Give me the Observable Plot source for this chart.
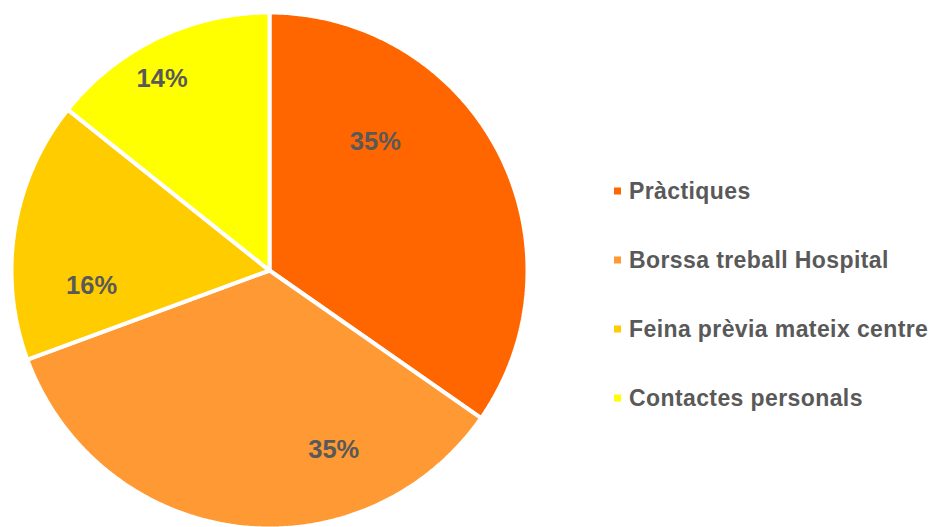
<!DOCTYPE html>
<html>
<head>
<meta charset="utf-8">
<script src="https://cdn.jsdelivr.net/npm/d3@7"></script>
<script src="https://cdn.jsdelivr.net/npm/@observablehq/plot@0.6"></script>
<style>
  body { margin: 0; background: #fff; font-family: "Liberation Sans", Arial, sans-serif; }
  #wrap { position: relative; width: 932px; height: 527px; overflow: hidden; }
  #legend { position: absolute; left: 614px; top: 0; }
  .item { position: absolute; left: 0; white-space: nowrap; display: flex; align-items: center;
          font-weight: bold; font-size: 23px; letter-spacing: 0.4px; color: #595959; transform: translateY(-50%); }
  .sw { width: 7px; height: 7px; margin-right: 8px; }
</style>
</head>
<body>
<div id="wrap"><div id="legend"></div></div>
<script>
// Data
const categories = ["Pràctiques", "Borssa treball Hospital", "Feina prèvia mateix centre", "Contactes personals"];
const counts = [17, 17, 8, 7];
const colors = ["#FF6600", "#FF9933", "#FFCC00", "#FFFF00"];

// Layout tweaks for label placement (fraction across slice angle, radius fraction)
const labelAngleFrac = [0.315, 0.283, 0.262, 0.432];
const labelRadius = [0.647, 0.737, 0.692, 0.853];

const total = d3.sum(counts);
const deg = Math.PI / 180;
let acc = 0;
const slices = counts.map((v, i) => {
  const a0 = acc / total * 360;
  acc += v;
  const a1 = acc / total * 360;
  return {name: categories[i], value: v, a0, a1, pct: Math.round(v / total * 100) + "%"};
});

const polyPts = [];
slices.forEach(s => {
  polyPts.push({name: s.name, x: 0, y: 0});
  const n = Math.max(2, Math.ceil((s.a1 - s.a0) / 0.5));
  for (let k = 0; k <= n; k++) {
    const a = (s.a0 + (s.a1 - s.a0) * k / n) * deg;
    polyPts.push({name: s.name, x: Math.sin(a), y: Math.cos(a)});
  }
  polyPts.push({name: s.name, x: 0, y: 0});
});

const labels = slices.map((s, i) => {
  const a = (s.a0 + (s.a1 - s.a0) * labelAngleFrac[i]) * deg;
  return {text: s.pct, x: Math.sin(a) * labelRadius[i], y: Math.cos(a) * labelRadius[i]};
});

const chart = Plot.plot({
  width: 932,
  height: 527,
  margin: 0,
  x: {domain: [-1, 1], range: [11, 527], axis: null},
  y: {domain: [-1, 1], range: [528, 12], axis: null},
  color: {domain: categories, range: colors},
  style: {fontFamily: '"Liberation Sans", Arial, sans-serif', background: "white"},
  marks: [
    Plot.line(polyPts, {x: "x", y: "y", z: "name", fill: "name", stroke: "white", strokeWidth: 4, strokeLinejoin: "miter", curve: "linear"}),
    Plot.text(labels, {x: "x", y: "y", text: "text", fill: "#595959", fontWeight: "bold", fontSize: 25.5})
  ]
});
document.getElementById("wrap").prepend(chart);
chart.style.position = "absolute";
chart.style.left = "0";
chart.style.top = "0";

const legendY = [191, 260, 329, 398];
const leg = document.getElementById("legend");
categories.forEach((c, i) => {
  const d = document.createElement("div");
  d.className = "item";
  d.style.top = legendY[i] + "px";
  d.innerHTML = `<span class="sw" style="background:${colors[i]}"></span><span>${c}</span>`;
  leg.appendChild(d);
});
</script>
</body>
</html>
